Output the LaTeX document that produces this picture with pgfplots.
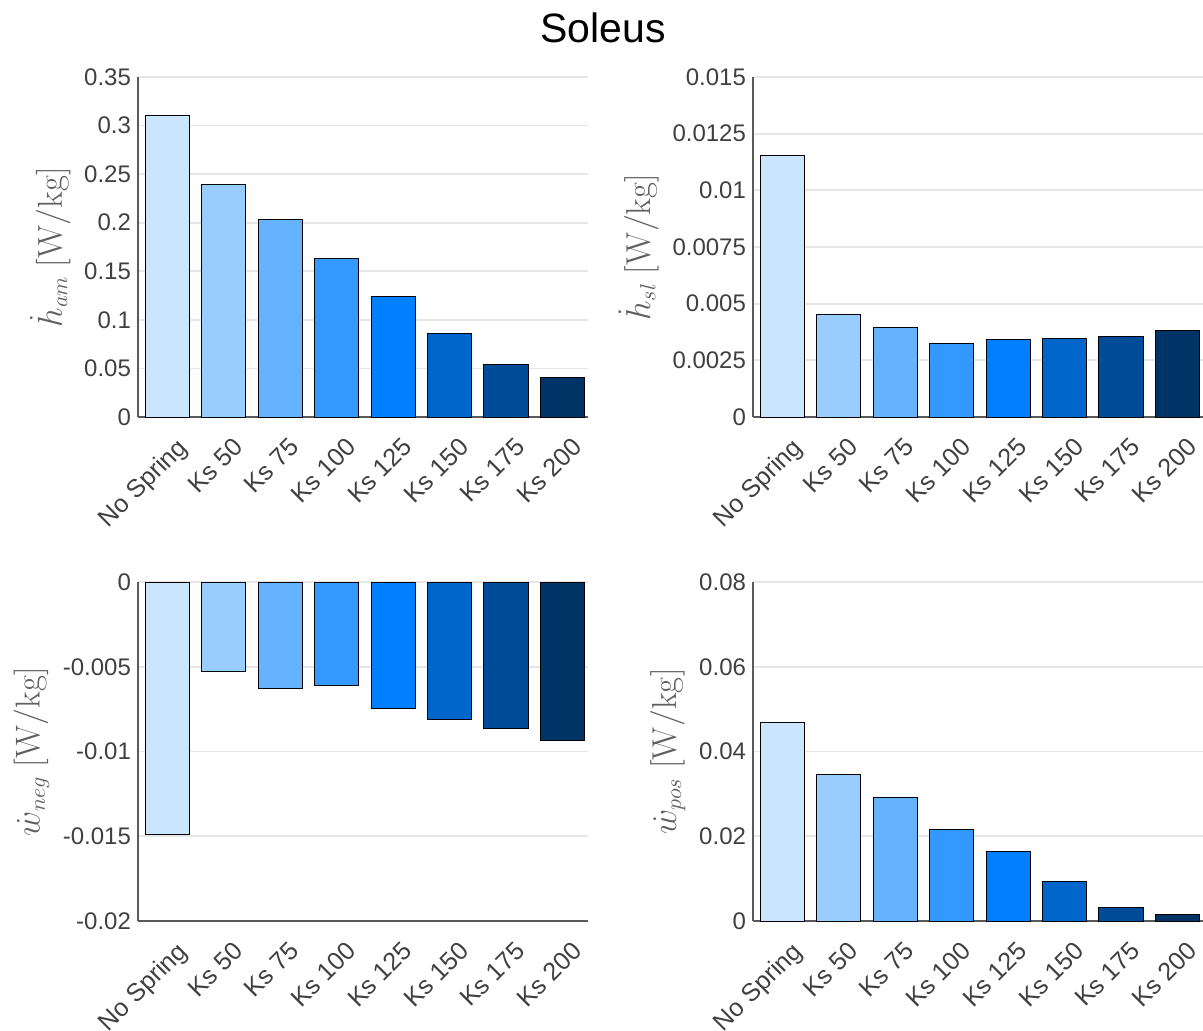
\documentclass[border=0pt]{standalone}
\usepackage{pgfplots}
\pgfplotsset{compat=1.18}
\usepackage[no-math]{fontspec}
\setmainfont{Liberation Sans}
\definecolor{c1}{HTML}{CCE5FF}
\definecolor{c2}{HTML}{99CCFF}
\definecolor{c3}{HTML}{66B2FF}
\definecolor{c4}{HTML}{3399FF}
\definecolor{c5}{HTML}{007FFF}
\definecolor{c6}{HTML}{0066CC}
\definecolor{c7}{HTML}{004C99}
\definecolor{c8}{HTML}{003366}
\definecolor{axgray}{HTML}{5A5A5A}
\definecolor{tickgray}{HTML}{404040}
\definecolor{labgray}{HTML}{606060}
\definecolor{gridgray}{HTML}{E6E6E6}
\pgfplotsset{
  panel/.style={
    scale only axis, width=225pt,
    xmin=-0.52, xmax=7.45,
    xtick={0,...,7},
    xticklabels={No Spring,Ks 50,Ks 75,Ks 100,Ks 125,Ks 150,Ks 175,Ks 200},
    xticklabel style={rotate=45, anchor=north east, font=\fontsize{12.6}{14}\selectfont, text=tickgray, inner sep=2pt, xshift=-1.8pt, yshift=-7.4pt},
    yticklabel style={font=\fontsize{12}{14}\selectfont, text=tickgray},
    major tick length=0pt,
    axis x line*=bottom, axis y line*=left,
    axis line style={axgray, line width=0.8pt, -},
    ymajorgrids, grid style={gridgray, line width=0.9pt},
    ylabel style={font=\fontsize{16}{18}\selectfont, text=labgray},
    scaled y ticks=false,
    ybar,
  },
  bars/.style={ybar, bar shift=0pt, bar width=0.785, draw=black, line width=0.5pt},
}
\begin{document}
\begin{tikzpicture}
\useasboundingbox (0,0) rectangle (601.5pt,-515pt);
\node[font=\fontsize{20.5}{24}\selectfont] at (301.5pt,-14pt) {Soleus};
% top left
\begin{axis}[panel, at={(69pt,-208.5pt)}, anchor=south west, height=170pt,
  ymin=0, ymax=0.35, ytick={0,0.05,0.1,0.15,0.2,0.25,0.3,0.35},
  yticklabels={0,0.05,0.1,0.15,0.2,0.25,0.3,0.35},
  ylabel={$\dot{h}_{am}\ [\mathrm{W/kg}]$}]
\addplot[bars, fill=c1] coordinates {(0,0.310)};
\addplot[bars, fill=c2] coordinates {(1,0.239)};
\addplot[bars, fill=c3] coordinates {(2,0.2035)};
\addplot[bars, fill=c4] coordinates {(3,0.1635)};
\addplot[bars, fill=c5] coordinates {(4,0.124)};
\addplot[bars, fill=c6] coordinates {(5,0.086)};
\addplot[bars, fill=c7] coordinates {(6,0.0542)};
\addplot[bars, fill=c8] coordinates {(7,0.0408)};
\end{axis}
% top right
\begin{axis}[panel, at={(376.5pt,-208.5pt)}, anchor=south west, height=170pt,
  ymin=0, ymax=0.015, ytick={0,0.0025,0.005,0.0075,0.01,0.0125,0.015},
  yticklabels={0,0.0025,0.005,0.0075,0.01,0.0125,0.015},
  ylabel={$\dot{h}_{sl}\ [\mathrm{W/kg}]$}]
\addplot[bars, fill=c1] coordinates {(0,0.01152)};
\addplot[bars, fill=c2] coordinates {(1,0.00453)};
\addplot[bars, fill=c3] coordinates {(2,0.00397)};
\addplot[bars, fill=c4] coordinates {(3,0.00324)};
\addplot[bars, fill=c5] coordinates {(4,0.00341)};
\addplot[bars, fill=c6] coordinates {(5,0.00347)};
\addplot[bars, fill=c7] coordinates {(6,0.00357)};
\addplot[bars, fill=c8] coordinates {(7,0.00381)};
\end{axis}
% bottom left
\begin{axis}[panel, at={(69pt,-460.5pt)}, anchor=south west, height=169.5pt,
  ymin=-0.02, ymax=0, ytick={-0.02,-0.015,-0.01,-0.005,0},
  yticklabels={-0.02,-0.015,-0.01,-0.005,0},
  ylabel={$\dot{w}_{neg}\ [\mathrm{W/kg}]$}]
\addplot[bars, fill=c1] coordinates {(0,-0.01487)};
\addplot[bars, fill=c2] coordinates {(1,-0.0053)};
\addplot[bars, fill=c3] coordinates {(2,-0.00627)};
\addplot[bars, fill=c4] coordinates {(3,-0.00611)};
\addplot[bars, fill=c5] coordinates {(4,-0.00749)};
\addplot[bars, fill=c6] coordinates {(5,-0.0081)};
\addplot[bars, fill=c7] coordinates {(6,-0.00864)};
\addplot[bars, fill=c8] coordinates {(7,-0.00933)};
\end{axis}
% bottom right
\begin{axis}[panel, at={(376.5pt,-460.5pt)}, anchor=south west, height=169.5pt,
  ymin=0, ymax=0.08, ytick={0,0.02,0.04,0.06,0.08},
  yticklabels={0,0.02,0.04,0.06,0.08},
  ylabel={$\dot{w}_{pos}\ [\mathrm{W/kg}]$}]
\addplot[bars, fill=c1] coordinates {(0,0.0469)};
\addplot[bars, fill=c2] coordinates {(1,0.0345)};
\addplot[bars, fill=c3] coordinates {(2,0.0291)};
\addplot[bars, fill=c4] coordinates {(3,0.0215)};
\addplot[bars, fill=c5] coordinates {(4,0.0163)};
\addplot[bars, fill=c6] coordinates {(5,0.0093)};
\addplot[bars, fill=c7] coordinates {(6,0.0033)};
\addplot[bars, fill=c8] coordinates {(7,0.0015)};
\end{axis}
\end{tikzpicture}
\end{document}
